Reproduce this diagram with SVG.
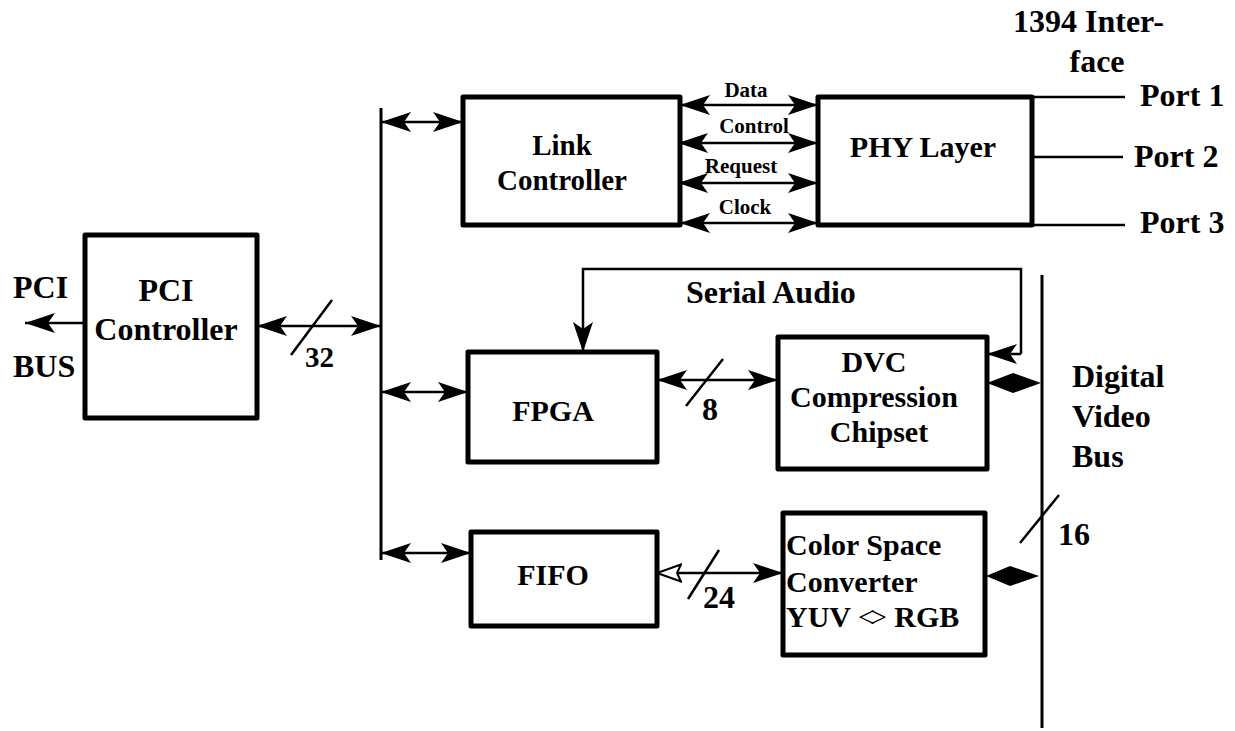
<svg xmlns="http://www.w3.org/2000/svg" width="1235" height="731" viewBox="0 0 1235 731">
<style>
.box{fill:#fff;stroke:#000;stroke-width:5;stroke-linejoin:round}
.ln{fill:none;stroke:#000;stroke-width:2.5}
.bus{fill:none;stroke:#000;stroke-width:3}
.ar{fill:none;stroke:#000;stroke-width:2.5;marker-start:url(#a);marker-end:url(#a)}
.t{font-family:"Liberation Serif","Times New Roman",serif;font-weight:bold;fill:#000}
.l{font-size:30px;text-anchor:middle}
.s{font-size:21px;text-anchor:middle}
.b{font-size:32px}
</style>
<defs>
<marker id="a" viewBox="0 0 30 20" refX="30" refY="10" markerWidth="30" markerHeight="20" markerUnits="userSpaceOnUse" orient="auto-start-reverse">
<path d="M0,0 L30,10 L0,20 L7,10 Z" fill="#000"/>
</marker>
<marker id="h" viewBox="0 0 26 20" refX="25" refY="10" markerWidth="26" markerHeight="20" markerUnits="userSpaceOnUse" orient="auto-start-reverse">
<path d="M1,1.5 L25,10 L1,18.5 L5,10 Z" fill="#fff" stroke="#000" stroke-width="2"/>
</marker>
</defs>

<g id="connectors">
<line class="bus" x1="381" y1="108" x2="381" y2="560"/>
<line class="bus" x1="1042" y1="275" x2="1042" y2="728"/>
<line class="ln" x1="85" y1="323" x2="25" y2="323" style="marker-end:url(#a)"/>
<line class="ar" x1="257" y1="326" x2="381" y2="326"/>
<line class="ln" x1="291" y1="355" x2="332" y2="300"/>
<line class="ar" x1="381" y1="122" x2="463" y2="122"/>
<line class="ar" x1="680" y1="105" x2="818" y2="105"/>
<line class="ar" x1="678" y1="143" x2="818" y2="143"/>
<line class="ar" x1="678" y1="183" x2="818" y2="183"/>
<line class="ar" x1="680" y1="223" x2="818" y2="223"/>
<line class="ln" x1="1032" y1="97" x2="1125" y2="97"/>
<line class="ln" x1="1032" y1="157" x2="1123" y2="157"/>
<line class="ln" x1="1032" y1="225" x2="1125" y2="225"/>
<line class="ar" x1="381" y1="392" x2="468" y2="392"/>
<line class="ar" x1="657" y1="380" x2="778" y2="380"/>
<line class="ln" x1="686" y1="406" x2="723" y2="359"/>
<path class="ln" d="M1021,354 L1021,269 L583,269 L583,352" style="marker-end:url(#a)"/>
<line class="ln" x1="1021" y1="354" x2="987" y2="354" style="marker-end:url(#a)"/>
<polygon points="987,383 1013,373 1041,383 1013,393" fill="#000"/>
<line class="ar" x1="381" y1="553" x2="471" y2="553"/>
<line class="ln" x1="657" y1="573" x2="783" y2="573" style="marker-start:url(#h);marker-end:url(#a)"/>
<line class="ln" x1="688" y1="599" x2="719" y2="550"/>
<polygon points="986,576 1010,566 1039,576 1010,586" fill="#000"/>
<line class="ln" x1="1020" y1="543" x2="1059" y2="495"/>
</g>

<g id="pci-controller">
<rect class="box" x="85" y="235" width="172" height="183"/>
<text class="t b" x="166" y="301" text-anchor="middle">PCI</text>
<text class="t b" x="166" y="340" text-anchor="middle">Controller</text>
</g>

<g id="link-controller">
<rect class="box" x="463" y="97" width="217" height="128"/>
<text class="t l" x="562" y="155" style="font-size:29px">Link</text>
<text class="t l" x="562" y="190" style="font-size:29px">Controller</text>
</g>

<g id="phy-layer">
<rect class="box" x="818" y="97" width="214" height="128"/>
<text class="t l" x="923" y="157">PHY Layer</text>
</g>

<g id="fpga">
<rect class="box" x="468" y="352" width="189" height="110"/>
<text class="t l" x="553" y="421">FPGA</text>
</g>

<g id="dvc">
<rect class="box" x="778" y="337" width="209" height="132"/>
<text class="t l" x="874" y="372">DVC</text>
<text class="t l" x="874" y="407">Compression</text>
<text class="t l" x="879" y="442">Chipset</text>
</g>

<g id="fifo">
<rect class="box" x="471" y="532" width="186" height="94"/>
<text class="t l" x="553" y="585">FIFO</text>
</g>

<g id="csc">
<rect class="box" x="783" y="513" width="202" height="142"/>
<text class="t" x="786" y="555" style="font-size:30px">Color Space</text>
<text class="t" x="786" y="592" style="font-size:30px">Converter</text>
<text class="t" x="786" y="627" style="font-size:30px">YUV <tspan style="font-weight:normal;letter-spacing:-5px">&lt;</tspan><tspan style="font-weight:normal">&gt;</tspan> RGB</text>
</g>

<g id="labels">
<text class="t b" x="13" y="298">PCI</text>
<text class="t b" x="13" y="377">BUS</text>
<text class="t" x="305" y="367" style="font-size:29px">32</text>
<text class="t s" x="746" y="97">Data</text>
<text class="t s" x="754" y="133">Control</text>
<text class="t s" x="741" y="173">Request</text>
<text class="t s" x="745" y="214">Clock</text>
<text class="t b" x="1013" y="32">1394 Inter-</text>
<text class="t b" x="1097" y="72" text-anchor="middle">face</text>
<text class="t b" x="1140" y="106">Port 1</text>
<text class="t b" x="1134" y="167">Port 2</text>
<text class="t b" x="1140" y="233">Port 3</text>
<text class="t b" x="686" y="303">Serial Audio</text>
<text class="t b" x="702" y="420">8</text>
<text class="t b" x="1072" y="387">Digital</text>
<text class="t b" x="1072" y="427">Video</text>
<text class="t b" x="1072" y="467">Bus</text>
<text class="t b" x="703" y="608">24</text>
<text class="t b" x="1058" y="545">16</text>
</g>
</svg>
